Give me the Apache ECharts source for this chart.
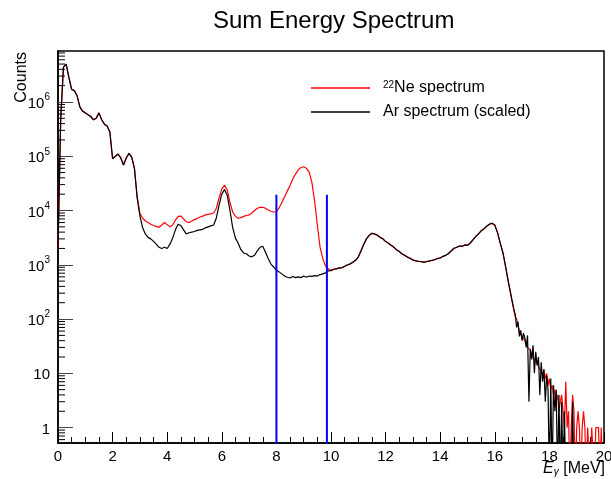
<!DOCTYPE html>
<html><head><meta charset="utf-8">
<script src="https://cdn.jsdelivr.net/npm/echarts@6/dist/echarts.min.js"></script>
<style>html,body{margin:0;padding:0;background:#fff}#c{width:611px;height:479px}</style>
</head><body><div id="c"></div>
<script>
// ---- data ----
const mainStart = 0, mainStep = 0.1;      // bins 0.0 .. 16.6 MeV
const tailStart = 16.65, tailStep = 0.05; // bins 16.65 .. 19.95 MeV
const neMain = [
2e3,5e5,4.4e6,5.0e6,2.8e6,1.7e6,1.62e6,1.3e6,8.1e5,6.8e5,
6.3e5,5.8e5,5.4e5,4.7e5,5.0e5,6.3e5,4.7e5,3.9e5,3.6e5,2.8e5,
9.0e4,1.0e5,1.1e5,9.3e4,6.9e4,9.3e4,1.13e5,9.6e4,6.0e4,1.8e4,
8.9e3,7.2e3,6.4e3,6.0e3,5.6e3,5.3e3,5.1e3,4.9e3,5.4e3,6.0e3,
5.5e3,5.0e3,5.4e3,6.6e3,7.8e3,7.9e3,7.0e3,6.2e3,6.0e3,6.4e3,
6.8e3,7.1e3,7.6e3,7.9e3,8.3e3,8.5e3,8.7e3,9.0e3,1.1e4,1.7e4,
2.5e4,2.9e4,2.4e4,1.4e4,9.4e3,7.8e3,7.2e3,7.4e3,7.8e3,8.1e3,
8.3e3,9.0e3,1.0e4,1.1e4,1.14e4,1.15e4,1.1e4,1.02e4,9.7e3,9.4e3,
9.5e3,1.12e4,1.4e4,1.8e4,2.3e4,2.9e4,3.8e4,4.7e4,5.6e4,6.2e4,
6.4e4,6.0e4,5.1e4,3.3e4,1.5e4,5.4e3,2.1e3,1.3e3,9.5e2,8.4e2,
7.9e2,8.2e2,8.5e2,8.7e2,8.9e2,9.3e2,1.0e3,1.03e3,1.12e3,1.2e3,
1.4e3,1.8e3,2.4e3,3.0e3,3.5e3,3.8e3,3.7e3,3.5e3,3.2e3,3.0e3,
2.7e3,2.5e3,2.3e3,2.1e3,1.9e3,1.75e3,1.6e3,1.48e3,1.4e3,1.31e3,
1.23e3,1.18e3,1.16e3,1.14e3,1.12e3,1.14e3,1.18e3,1.2e3,1.25e3,1.3e3,
1.34e3,1.42e3,1.5e3,1.6e3,1.8e3,2.0e3,2.1e3,2.2e3,2.2e3,2.3e3,
2.3e3,2.5e3,2.9e3,3.3e3,3.7e3,4.2e3,4.6e3,5.1e3,5.6e3,5.8e3,
5.4e3,3.9e3,2.5e3,1.65e3,9.1e2,4.8e2,2.7e2
];
const arMain = [
2e3,5e5,4.4e6,5.0e6,2.8e6,1.7e6,1.62e6,1.3e6,8.1e5,6.8e5,
6.3e5,5.8e5,5.4e5,4.7e5,5.0e5,6.3e5,4.7e5,3.9e5,3.6e5,2.8e5,
9.0e4,1.0e5,1.1e5,9.3e4,6.9e4,9.3e4,1.13e5,9.6e4,6.0e4,1.7e4,
8.0e3,4.8e3,3.7e3,3.2e3,3.0e3,2.7e3,2.4e3,2.1e3,2.0e3,2.1e3,
2.0e3,2.4e3,3.1e3,4.4e3,5.6e3,5.3e3,4.4e3,3.7e3,3.9e3,4.0e3,
4.1e3,4.3e3,4.4e3,4.5e3,4.8e3,5.0e3,5.2e3,5.4e3,7.3e3,1.26e4,
2.0e4,2.45e4,1.9e4,1.0e4,4.8e3,3.1e3,2.5e3,1.9e3,1.65e3,1.6e3,
1.45e3,1.4e3,1.5e3,1.8e3,2.1e3,2.2e3,1.7e3,1.3e3,1.03e3,9.1e2,
8.0e2,7.4e2,6.8e2,6.2e2,5.9e2,5.7e2,6.1e2,5.8e2,6.0e2,5.8e2,
6.2e2,5.9e2,6.2e2,6.1e2,6.3e2,6.2e2,6.6e2,6.8e2,7.1e2,7.7e2,
7.8e2,8.3e2,8.4e2,8.8e2,8.8e2,9.4e2,9.9e2,1.04e3,1.11e3,1.21e3,
1.39e3,1.82e3,2.38e3,3.02e3,3.48e3,3.82e3,3.68e3,3.52e3,3.18e3,3.02e3,
2.68e3,2.52e3,2.28e3,2.12e3,1.88e3,1.77e3,1.58e3,1.5e3,1.38e3,1.32e3,
1.22e3,1.19e3,1.15e3,1.15e3,1.11e3,1.15e3,1.17e3,1.21e3,1.24e3,1.31e3,
1.33e3,1.43e3,1.49e3,1.61e3,1.79e3,2.02e3,2.08e3,2.22e3,2.18e3,2.32e3,
2.28e3,2.52e3,2.88e3,3.32e3,3.68e3,4.22e3,4.58e3,5.12e3,5.58e3,5.82e3,
5.38e3,3.92e3,2.48e3,1.66e3,9.0e2,4.7e2,2.6e2
];
const neTail = [
190,145,110,100,75,62,52,50,44,40,
38,30,28,27,22,21,18,19,15,14,
12,13,10,11,8,10,6,8,5,6,
4,5,3,4,2,3,4,2,1,7,
1,2,0,1,4,2,0,1,2,1,
0,1,2,1,0,1,1,0,1,1,
0,1,1,1,0,1,0
];
const arTail = [
200,150,120,70,90,48,62,40,55,45,
30,50,3,28,18,33,10,25,14,20,
4,16,7,12,3,9,5,0,8,0,
6,2,5,0,4,0,3,0,2,0,
0,0,0,0,3,0,0,0,0,0,
0,0,0,0,0,0,0,0,0,0,
0,0,0,0,0,0,0
];
const cutLines = [8.0, 9.85];
const cutTop = 1.95e4;
const xTicks = [0,2,4,6,8,10,12,14,16,18,20];
const yMajor = [1,10,100,1e3,1e4,1e5,1e6];
const yMinorMult = [2,3,4,5,6,7,8,9];
const yMin = 0.52, yMax = 8.7e6;

// ---- build ----
const FONT = 'Liberation Sans, Arial, Helvetica, sans-serif';
const FLOOR = 0.1; // empty bins are drawn down past the axis (clipped)
function build(main, tail) {
  const out = [];
  main.forEach((v, i) => out.push([+(mainStart + i * mainStep).toFixed(2), v > 0 ? v : FLOOR]));
  tail.forEach((v, i) => out.push([+(tailStart + i * tailStep).toFixed(2), v > 0 ? v : FLOOR]));
  return out;
}
const minorVals = [];
[0.1,1,10,100,1e3,1e4,1e5,1e6].forEach(d => yMinorMult.forEach(m => {
  const v = m * d; if (v > yMin && v < yMax) minorVals.push([0, v]);
}));

const chart = echarts.init(document.getElementById('c'), null, {renderer: 'canvas'});
const supRich = {
  b: {fontSize: 15, fontFamily: FONT, color: '#000', padding: [4, 0, 0, 0]},
  sup: {fontSize: 10, fontFamily: FONT, color: '#000', verticalAlign: 'top'}
};
chart.setOption({
  animation: false,
  backgroundColor: '#fff',
  title: {
    text: 'Sum Energy Spectrum', left: 213, top: 9, padding: 0,
    textStyle: {fontSize: 24, fontWeight: 'normal', fontFamily: FONT, color: '#000'}
  },
  legend: {
    data: ['Ne', 'Ar'], orient: 'vertical', left: 311, top: 80,
    icon: 'rect', itemWidth: 59, itemHeight: 1.5, itemGap: 8, padding: 0,
    formatter: n => n === 'Ne' ? '{sup|22}{t|Ne spectrum}' : '{t|Ar spectrum (scaled)}',
    textStyle: {
      fontSize: 16, fontFamily: FONT, color: '#000', padding: [0, 0, 0, 8],
      rich: {
        t: {fontSize: 16, fontFamily: FONT, color: '#000'},
        sup: {fontSize: 10, fontFamily: FONT, color: '#000', verticalAlign: 'top'}
      }
    }
  },
  grid: {left: 58, right: 7, top: 51, bottom: 36, show: true, borderColor: '#000', borderWidth: 1.5,
         containLabel: false, outerBoundsMode: 'none'},
  xAxis: {
    type: 'value', min: 0, max: 20, interval: 2,
    axisLine: {lineStyle: {color: '#000', width: 1.5}},
    axisTick: {inside: true, length: 11, lineStyle: {color: '#000', width: 1}},
    minorTick: {show: true, splitNumber: 4, length: 6, lineStyle: {color: '#000', width: 1}},
    splitLine: {show: false},
    axisLabel: {color: '#000', fontSize: 15, fontFamily: FONT, margin: 6,
      formatter: v => xTicks.indexOf(v) >= 0 ? String(v) : ''}
  },
  yAxis: {
    type: 'log', logBase: 10, min: yMin, max: yMax,
    axisLine: {lineStyle: {color: '#000', width: 1.5}},
    axisTick: {inside: true, length: 15, lineStyle: {color: '#444', width: 1}},
    splitLine: {show: false},
    minorTick: {show: false},
    axisLabel: {
      margin: 8, color: '#000', fontSize: 15, fontFamily: FONT,
      showMinLabel: false, showMaxLabel: false,
      formatter: v => {
        const e = Math.round(Math.log10(v));
        if (Math.abs(v - Math.pow(10, e)) / v > 1e-6 || yMajor.indexOf(Math.pow(10, e)) < 0) return '';
        if (e === 0) return '{b|1}';
        if (e === 1) return '{b|10}';
        return '{b|10}{sup|' + e + '}';
      },
      rich: supRich
    }
  },
  graphic: [
    {type: 'text', x: 22, y: 52, rotation: Math.PI / 2,
     style: {text: 'Counts', align: 'right', verticalAlign: 'middle', fontSize: 16, fontFamily: FONT, fill: '#000'}},
    {type: 'text', x: 605, y: 469,
     style: {text: '{i|E}{sub|γ} [MeV]', align: 'right', verticalAlign: 'middle', fontSize: 16, fontFamily: FONT, fill: '#000',
       rich: {i: {fontSize: 16, fontStyle: 'italic', fontFamily: FONT}, sub: {fontSize: 10, fontStyle: 'italic', fontFamily: FONT, verticalAlign: 'bottom'}}}}
  ],
  series: [
    {name: 'Ne', type: 'line', data: build(neMain, neTail), symbol: 'none', clip: true,
     lineStyle: {color: '#ff0000', width: 1.2}, itemStyle: {color: '#ff0000'}, z: 2},
    {name: 'Ar', type: 'line', data: build(arMain, arTail), symbol: 'none', clip: true,
     lineStyle: {color: '#000000', width: 1.2}, itemStyle: {color: '#000000'}, z: 3},
    ...cutLines.map(x => ({
      name: 'cut' + x, type: 'line', data: [[x, FLOOR], [x, cutTop]], symbol: 'none', clip: true,
      lineStyle: {color: '#0000ff', width: 2}, z: 4, silent: true
    })),
    {name: 'minorY', type: 'custom', data: minorVals, silent: true, z: 5, clip: true,
     renderItem: (params, api) => {
       const p = api.coord([api.value(0), api.value(1)]);
       return {type: 'line', shape: {x1: p[0], y1: p[1], x2: p[0] + 7, y2: p[1]},
               style: {stroke: '#000', lineWidth: 1}};
     }}
  ]
});
</script></body></html>
